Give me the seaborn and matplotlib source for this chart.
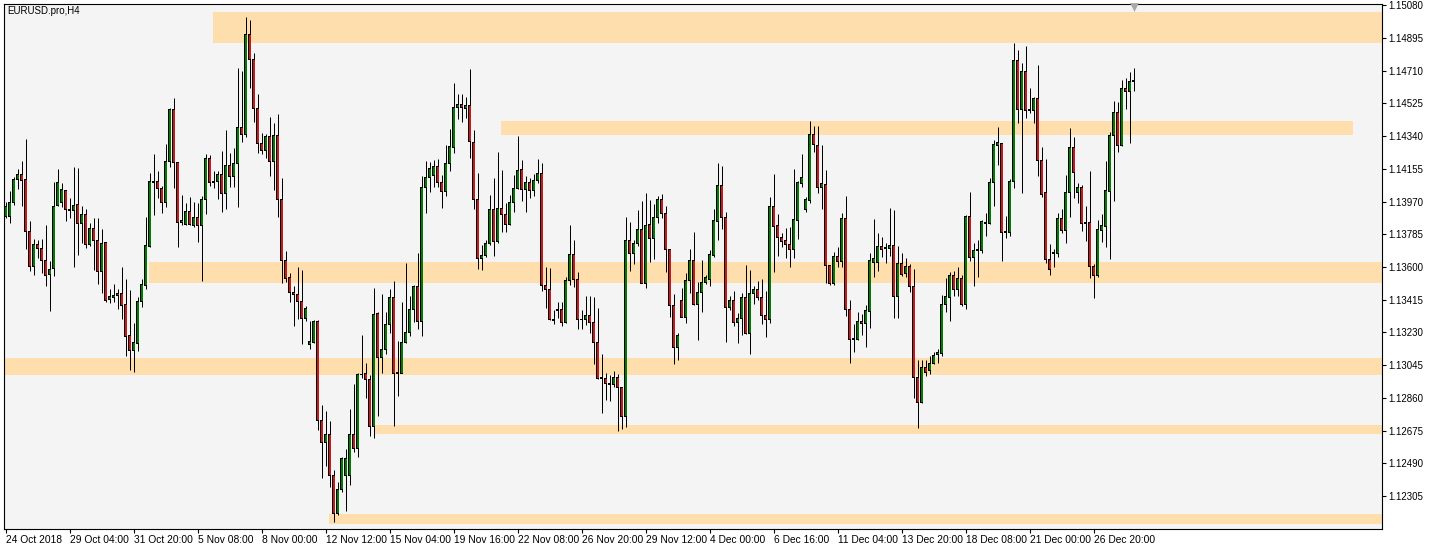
import numpy as np
import pandas as pd
import matplotlib
matplotlib.use("Agg")
import matplotlib.pyplot as plt
import seaborn as sns
from matplotlib.transforms import blended_transform_factory

# ---------------- data (EURUSD.pro, H4) ----------------
opens = [1.13884, 1.13884, 1.13964, 1.14092, 1.14125, 1.14092, 1.13803, 1.13602, 1.13728, 1.13706,
         1.13636, 1.13555, 1.13591, 1.13947, 1.13964, 1.14030, 1.13926, 1.13918, 1.13951, 1.13847,
         1.13899, 1.13728, 1.13820, 1.13749, 1.13573, 1.13737, 1.13417, 1.13428, 1.13440, 1.13447,
         1.13385, 1.13210, 1.13130, 1.13168, 1.13404, 1.13494, 1.13715, 1.14080, 1.14086, 1.14045,
         1.13964, 1.14195, 1.14493, 1.14192, 1.13850, 1.13841, 1.13911, 1.13837, 1.13880, 1.13835,
         1.13982, 1.14214, 1.14077, 1.14082, 1.14120, 1.14016, 1.14171, 1.14111, 1.14186, 1.14391,
         1.14350, 1.14912, 1.14774, 1.14495, 1.14299, 1.14261, 1.14340, 1.14195, 1.14346, 1.13982,
         1.13636, 1.13540, 1.13456, 1.13445, 1.13407, 1.13310, 1.13164, 1.13172, 1.13294, 1.12734,
         1.12608, 1.12650, 1.12418, 1.12203, 1.12344, 1.12418, 1.12418, 1.12650, 1.12574, 1.12989,
         1.12998, 1.12964, 1.12697, 1.13338, 1.13089, 1.13134, 1.13272, 1.13428, 1.12998, 1.12998,
         1.13174, 1.13228, 1.13357, 1.13488, 1.13291, 1.14049, 1.14107, 1.14116, 1.14167, 1.14077,
         1.14026, 1.14186, 1.14277, 1.14503, 1.14520, 1.14497, 1.14514, 1.14305, 1.13982, 1.13649,
         1.13664, 1.13734, 1.13926, 1.13743, 1.13932, 1.13899, 1.13841, 1.13964, 1.14045, 1.14152,
         1.14039, 1.14079, 1.14033, 1.14090, 1.14129, 1.13494, 1.13470, 1.13304, 1.13353, 1.13357,
         1.13287, 1.13522, 1.13668, 1.13530, 1.13304, 1.13304, 1.13328, 1.13287, 1.13174, 1.12970,
         1.12970, 1.12942, 1.12938, 1.12976, 1.12919, 1.12757, 1.13749, 1.13677, 1.13734, 1.13809,
         1.13507, 1.13841, 1.13762, 1.13880, 1.13982, 1.13903, 1.13700, 1.13383, 1.13143, 1.13413,
         1.13315, 1.13526, 1.13634, 1.13389, 1.13456, 1.13513, 1.13530, 1.13664, 1.13856, 1.14063,
         1.13880, 1.13370, 1.13413, 1.13287, 1.13310, 1.13428, 1.13225, 1.13451, 1.13475, 1.13428,
         1.13328, 1.13304, 1.13941, 1.13833, 1.13766, 1.13747, 1.13728, 1.13700, 1.13864, 1.14073,
         1.13926, 1.13975, 1.14350, 1.14284, 1.14050, 1.14069, 1.13607, 1.13504, 1.13658, 1.13630,
         1.13875, 1.13357, 1.13191, 1.13191, 1.13291, 1.13282, 1.13347, 1.13626, 1.13626, 1.13715,
         1.13702, 1.13706, 1.13724, 1.13432, 1.13620, 1.13564, 1.13602, 1.13492, 1.12976, 1.12833,
         1.13032, 1.13017, 1.13055, 1.13106, 1.13112, 1.13390, 1.13428, 1.13549, 1.13473, 1.13532,
         1.13385, 1.13884, 1.13652, 1.13692, 1.13692, 1.13854, 1.13847, 1.14079, 1.14286, 1.14299,
         1.13794, 1.13794, 1.14086, 1.14765, 1.14488, 1.14704, 1.14482, 1.14482, 1.14553, 1.14201,
         1.14020, 1.13643, 1.13683, 1.13675, 1.13875, 1.13805, 1.14022, 1.14278, 1.14020, 1.14050,
         1.13847, 1.13854, 1.13605, 1.13551, 1.13805, 1.13831, 1.14026, 1.14342, 1.14474, 1.14284,
         1.14610, 1.14591, 1.14648]
highs = [1.13969, 1.14030, 1.14111, 1.14152, 1.14199, 1.14324, 1.13860, 1.13756, 1.13752, 1.13758,
         1.13837, 1.13636, 1.14079, 1.14152, 1.14073, 1.14036, 1.13988, 1.14167, 1.14162, 1.13947,
         1.13926, 1.13847, 1.13879, 1.13875, 1.13813, 1.13743, 1.13473, 1.13504, 1.13475, 1.13602,
         1.13532, 1.13470, 1.13282, 1.13428, 1.13532, 1.13884, 1.14133, 1.14239, 1.14143, 1.14058,
         1.14295, 1.14501, 1.14557, 1.14195, 1.14007, 1.13964, 1.13997, 1.13967, 1.13964, 1.14001,
         1.14239, 1.14233, 1.14143, 1.14143, 1.14258, 1.14374, 1.14242, 1.14274, 1.14723, 1.14708,
         1.15015, 1.14996, 1.14808, 1.14578, 1.14359, 1.14352, 1.14446, 1.14412, 1.14465, 1.14101,
         1.13691, 1.13564, 1.13492, 1.13598, 1.13583, 1.13379, 1.13294, 1.13300, 1.13300, 1.12820,
         1.12786, 1.12729, 1.12452, 1.12386, 1.12527, 1.12569, 1.12799, 1.12938, 1.13002, 1.13215,
         1.13059, 1.12989, 1.13483, 1.13347, 1.13447, 1.13347, 1.13473, 1.13520, 1.13181, 1.13400,
         1.13624, 1.13436, 1.13498, 1.13681, 1.14114, 1.14199, 1.14195, 1.14205, 1.14210, 1.14120,
         1.14290, 1.14382, 1.14642, 1.14578, 1.14578, 1.14559, 1.14717, 1.14374, 1.14129, 1.13724,
         1.13752, 1.14007, 1.14101, 1.14248, 1.14148, 1.13960, 1.14007, 1.14120, 1.14340, 1.14205,
         1.14116, 1.14101, 1.14125, 1.14210, 1.14186, 1.13598, 1.13592, 1.13357, 1.13400, 1.13404,
         1.13545, 1.13837, 1.13752, 1.13570, 1.13357, 1.13438, 1.13438, 1.13428, 1.13370, 1.13106,
         1.12998, 1.12989, 1.13011, 1.12993, 1.12923, 1.13884, 1.13854, 1.13752, 1.13922, 1.13975,
         1.14020, 1.13979, 1.13956, 1.14001, 1.14011, 1.13945, 1.13700, 1.13447, 1.13225, 1.13479,
         1.13564, 1.13700, 1.13799, 1.13517, 1.13639, 1.13555, 1.13696, 1.13926, 1.14186, 1.14171,
         1.13913, 1.13436, 1.13464, 1.13341, 1.13455, 1.13611, 1.13583, 1.13494, 1.13520, 1.13532,
         1.13464, 1.13997, 1.14125, 1.13899, 1.13790, 1.13818, 1.13828, 1.14154, 1.14086, 1.14239,
         1.13997, 1.14425, 1.14397, 1.14397, 1.14290, 1.14148, 1.13611, 1.13683, 1.13715, 1.13903,
         1.14001, 1.13413, 1.13277, 1.13343, 1.13334, 1.13385, 1.13681, 1.13869, 1.13790, 1.13771,
         1.13737, 1.13932, 1.13922, 1.13719, 1.13677, 1.13652, 1.13617, 1.13587, 1.13074, 1.13074,
         1.13074, 1.13098, 1.13121, 1.13134, 1.13441, 1.13536, 1.13573, 1.13579, 1.13598, 1.13555,
         1.13894, 1.14022, 1.13737, 1.13752, 1.13866, 1.13907, 1.14101, 1.14318, 1.14393, 1.14299,
         1.13890, 1.14097, 1.14865, 1.14827, 1.14755, 1.14849, 1.14610, 1.14563, 1.14742, 1.14280,
         1.14210, 1.13730, 1.13702, 1.13907, 1.13928, 1.14120, 1.14388, 1.14337, 1.14077, 1.14063,
         1.13945, 1.14143, 1.13615, 1.13866, 1.13897, 1.14199, 1.14365, 1.14540, 1.14535, 1.14657,
         1.14667, 1.14704, 1.14727]
lows = [1.13875, 1.13847, 1.13951, 1.14041, 1.13947, 1.13702, 1.13579, 1.13555, 1.13649, 1.13564,
        1.13492, 1.13353, 1.13549, 1.13947, 1.13941, 1.13862, 1.13875, 1.13602, 1.13668, 1.13734,
        1.13706, 1.13719, 1.13583, 1.13504, 1.13455, 1.13404, 1.13398, 1.13404, 1.13361, 1.13304,
        1.13096, 1.13017, 1.13008, 1.13127, 1.13375, 1.13473, 1.13711, 1.13894, 1.13988, 1.13907,
        1.13941, 1.14167, 1.14049, 1.13715, 1.13837, 1.13837, 1.13837, 1.13824, 1.13743, 1.13522,
        1.13899, 1.14058, 1.14049, 1.13986, 1.13913, 1.13928, 1.14054, 1.14054, 1.13941, 1.14305,
        1.14333, 1.14614, 1.14422, 1.14242, 1.14239, 1.14218, 1.14116, 1.14036, 1.13880, 1.13507,
        1.13517, 1.13404, 1.13268, 1.13304, 1.13162, 1.13297, 1.13134, 1.13168, 1.12678, 1.12405,
        1.12474, 1.12358, 1.12156, 1.12197, 1.12329, 1.12220, 1.12367, 1.12555, 1.12527, 1.12970,
        1.12857, 1.12646, 1.12631, 1.12759, 1.13002, 1.13108, 1.13228, 1.12703, 1.12872, 1.12998,
        1.13168, 1.13210, 1.13291, 1.13247, 1.13210, 1.13907, 1.14026, 1.14054, 1.14054, 1.13935,
        1.14003, 1.14144, 1.14246, 1.14438, 1.14422, 1.14444, 1.14214, 1.13926, 1.13587, 1.13583,
        1.13654, 1.13724, 1.13664, 1.13734, 1.13796, 1.13799, 1.13837, 1.13913, 1.14041, 1.13975,
        1.13909, 1.13988, 1.14003, 1.14073, 1.13464, 1.13370, 1.13300, 1.13277, 1.13310, 1.13266,
        1.13285, 1.13498, 1.13488, 1.13249, 1.13247, 1.13272, 1.13225, 1.13049, 1.12964, 1.12772,
        1.12847, 1.12844, 1.12923, 1.12672, 1.12682, 1.12697, 1.13579, 1.13617, 1.13719, 1.13507,
        1.13483, 1.13630, 1.13643, 1.13847, 1.13875, 1.13573, 1.13319, 1.13051, 1.13074, 1.13315,
        1.13282, 1.13451, 1.13385, 1.13187, 1.13347, 1.13502, 1.13492, 1.13658, 1.13752, 1.13815,
        1.13177, 1.13357, 1.13268, 1.13168, 1.13215, 1.13221, 1.13106, 1.13389, 1.13413, 1.13276,
        1.13206, 1.13282, 1.13573, 1.13664, 1.13711, 1.13649, 1.13602, 1.13649, 1.13758, 1.14050,
        1.13913, 1.13960, 1.14248, 1.14016, 1.13928, 1.13511, 1.13498, 1.13498, 1.13602, 1.13602,
        1.13323, 1.13059, 1.13117, 1.13187, 1.13215, 1.13145, 1.13253, 1.13545, 1.13579, 1.13658,
        1.13624, 1.13662, 1.13310, 1.13310, 1.13549, 1.13545, 1.13456, 1.12857, 1.12692, 1.12829,
        1.12985, 1.12993, 1.13051, 1.13059, 1.13096, 1.13343, 1.13297, 1.13436, 1.13438, 1.13379,
        1.13362, 1.13636, 1.13492, 1.13545, 1.13681, 1.13775, 1.13843, 1.13945, 1.14176, 1.13636,
        1.13766, 1.13775, 1.14049, 1.14412, 1.14020, 1.14440, 1.14469, 1.14412, 1.14116, 1.13997,
        1.13620, 1.13555, 1.13602, 1.13658, 1.13790, 1.13737, 1.13884, 1.13992, 1.13964, 1.13805,
        1.13749, 1.13540, 1.13422, 1.13545, 1.13743, 1.13711, 1.13643, 1.13975, 1.14252, 1.14284,
        1.14495, 1.14303, 1.14595]
closes = [1.13941, 1.13964, 1.14092, 1.14125, 1.14088, 1.13799, 1.13602, 1.13728, 1.13704, 1.13636,
          1.13551, 1.13587, 1.13941, 1.14079, 1.14036, 1.13926, 1.13920, 1.13949, 1.13847, 1.13899,
          1.13728, 1.13820, 1.13747, 1.13573, 1.13730, 1.13413, 1.13432, 1.13441, 1.13447, 1.13381,
          1.13206, 1.13130, 1.13172, 1.13407, 1.13498, 1.13719, 1.14086, 1.14086, 1.14045, 1.13964,
          1.14199, 1.14493, 1.14190, 1.13852, 1.13860, 1.13911, 1.13841, 1.13880, 1.13835, 1.13982,
          1.14214, 1.14077, 1.14084, 1.14120, 1.14016, 1.14171, 1.14111, 1.14186, 1.14391, 1.14350,
          1.14912, 1.14774, 1.14495, 1.14299, 1.14261, 1.14340, 1.14195, 1.14346, 1.13982, 1.13636,
          1.13536, 1.13455, 1.13445, 1.13404, 1.13310, 1.13366, 1.13176, 1.13294, 1.12734, 1.12608,
          1.12650, 1.12418, 1.12203, 1.12344, 1.12514, 1.12514, 1.12650, 1.12574, 1.12989, 1.12993,
          1.12964, 1.12697, 1.13332, 1.13089, 1.13134, 1.13272, 1.13428, 1.12998, 1.13002, 1.13174,
          1.13228, 1.13357, 1.13488, 1.13294, 1.14049, 1.14107, 1.14158, 1.14167, 1.14077, 1.14026,
          1.14186, 1.14280, 1.14503, 1.14520, 1.14503, 1.14514, 1.14308, 1.13979, 1.13649, 1.13664,
          1.13734, 1.13926, 1.13743, 1.13932, 1.13899, 1.13841, 1.13964, 1.14045, 1.14146, 1.14039,
          1.14079, 1.14033, 1.14090, 1.14129, 1.13494, 1.13470, 1.13304, 1.13297, 1.13361, 1.13287,
          1.13526, 1.13668, 1.13530, 1.13304, 1.13300, 1.13328, 1.13287, 1.13174, 1.12970, 1.12974,
          1.12942, 1.12938, 1.12976, 1.12919, 1.12753, 1.13749, 1.13677, 1.13734, 1.13809, 1.13507,
          1.13835, 1.13762, 1.13880, 1.13982, 1.13903, 1.13700, 1.13383, 1.13143, 1.13215, 1.13315,
          1.13526, 1.13634, 1.13389, 1.13456, 1.13513, 1.13540, 1.13668, 1.13860, 1.14063, 1.13880,
          1.13372, 1.13413, 1.13287, 1.13310, 1.13428, 1.13225, 1.13451, 1.13475, 1.13428, 1.13323,
          1.13304, 1.13941, 1.13828, 1.13766, 1.13743, 1.13728, 1.13700, 1.13866, 1.14077, 1.14107,
          1.13979, 1.14350, 1.14290, 1.14050, 1.14071, 1.13607, 1.13504, 1.13658, 1.13630, 1.13875,
          1.13357, 1.13191, 1.13197, 1.13291, 1.13282, 1.13351, 1.13639, 1.13645, 1.13715, 1.13700,
          1.13709, 1.13724, 1.13432, 1.13620, 1.13560, 1.13602, 1.13492, 1.12976, 1.12833, 1.13032,
          1.13002, 1.13055, 1.13102, 1.13115, 1.13390, 1.13432, 1.13549, 1.13473, 1.13532, 1.13385,
          1.13884, 1.13652, 1.13692, 1.13700, 1.13856, 1.13847, 1.14079, 1.14295, 1.14303, 1.13794,
          1.13799, 1.14086, 1.14765, 1.14488, 1.14704, 1.14482, 1.14488, 1.14553, 1.14201, 1.14007,
          1.13643, 1.13587, 1.13675, 1.13875, 1.13805, 1.14022, 1.14274, 1.14133, 1.14050, 1.13847,
          1.13854, 1.13602, 1.13551, 1.13809, 1.13833, 1.14030, 1.14346, 1.14474, 1.14284, 1.14610,
          1.14591, 1.14648, 1.14652]

# time labels every 16 bars
tick_labels = ["24 Oct 2018", "29 Oct 04:00", "31 Oct 20:00", "5 Nov 08:00", "8 Nov 00:00",
               "12 Nov 12:00", "15 Nov 04:00", "19 Nov 16:00", "22 Nov 08:00", "26 Nov 20:00",
               "29 Nov 12:00", "4 Dec 00:00", "6 Dec 16:00", "11 Dec 04:00", "13 Dec 20:00",
               "18 Dec 08:00", "21 Dec 00:00", "26 Dec 20:00"]
price_ticks = [1.15080, 1.14895, 1.14710, 1.14525, 1.14340, 1.14155, 1.13970, 1.13785,
               1.13600, 1.13415, 1.13230, 1.13045, 1.12860, 1.12675, 1.12490, 1.12305]

# support / resistance zones (start bar, end bar, low price, high price)
zone_start = [51.75, 123.75, 35.75, -0.5, 92.0, 80.75]
zone_end = [345.0, 336.75, 345.0, 345.0, 345.0, 345.0]
zone_low = [1.14865, 1.14347, 1.13511, 1.12989, 1.12654, 1.12145]
zone_high = [1.15044, 1.14426, 1.13627, 1.13087, 1.12707, 1.12203]

symbol_title = "EURUSD.pro,H4"

# ---------------- plot ----------------
sns.set_theme(style="white")
plt.rcParams['font.family'] = ['Liberation Sans', 'DejaVu Sans']

df = pd.DataFrame({"open": opens, "high": highs, "low": lows, "close": closes})
df["bar"] = np.arange(len(df))
df["up"] = df["close"] >= df["open"]
df["body_lo"] = df[["open", "close"]].min(axis=1)
df["body_h"] = (df["close"] - df["open"]).abs()

W, H = 1437, 551
fig = plt.figure(figsize=(W / 100, H / 100), dpi=100)
fig.patch.set_facecolor("white")
L, R, T, B = 4, 1382, 4, 529
ax = fig.add_axes([L / W, 1 - B / H, (R - L) / W, (B - T) / H])
ax.set_facecolor("#F4F4F4")
YMIN, YMAX = 1.12118, 1.15087
ax.set_xlim(-0.375, 344.125)          # exactly 4 screen pixels per bar
ax.set_ylim(YMIN, YMAX)
px = (YMAX - YMIN) / (B - T)          # one screen pixel in price units

zcol = "#FFDEAD"
for s, e, lo, hi in zip(zone_start, zone_end, zone_low, zone_high):
    ax.fill_between([s, e], [lo, lo], [hi, hi], color=zcol, lw=0, zorder=1)

# wicks
ax.vlines(df["bar"], df["low"], df["high"], color="black", lw=0.72, zorder=2)
# body outline (black, 3 px) then coloured fill inset
ax.bar(df["bar"], df["body_h"] + px, bottom=df["body_lo"] - px / 2, width=0.75,
       color="black", linewidth=0, zorder=3)
inner_h = np.clip(df["body_h"] - px, 0, None)
colors = np.where(df["up"], "#007A00", "#C41A1E")
ax.bar(df["bar"], inner_h, bottom=df["body_lo"] + px / 2, width=0.5,
       color=colors, linewidth=0, zorder=4)

# shift marker
trans = blended_transform_factory(ax.transData, ax.transAxes)
ax.scatter([len(df) - 1], [1 - 3.0 / (B - T)], marker="v", s=40, color="#A8A8A8",
           transform=trans, clip_on=False, zorder=5, linewidths=0)

# axes styling
for sp in ax.spines.values():
    sp.set_color("black")
    sp.set_linewidth(0.8)
ax.yaxis.tick_right()
ax.set_yticks(price_ticks)
ax.set_yticklabels([f"{p:.5f}" for p in price_ticks])
ax.set_xticks(np.arange(len(tick_labels)) * 16)
ax.set_xticklabels(tick_labels)
for lab in ax.get_xticklabels():
    lab.set_horizontalalignment("left")
ax.tick_params(axis="y", which="both", right=True, left=False, direction="out",
               length=3, width=0.8, pad=1.5, labelsize=7, colors="black")
ax.tick_params(axis="x", which="both", bottom=True, direction="out",
               length=3, width=0.8, pad=1.5, labelsize=7.4, colors="black")
ax.grid(False)

ax.text(3 / (R - L), 1 - 2 / (B - T), symbol_title, transform=ax.transAxes,
        ha="left", va="top", fontsize=7, color="black")

fig.savefig("out.png", dpi=100, facecolor=fig.get_facecolor())
